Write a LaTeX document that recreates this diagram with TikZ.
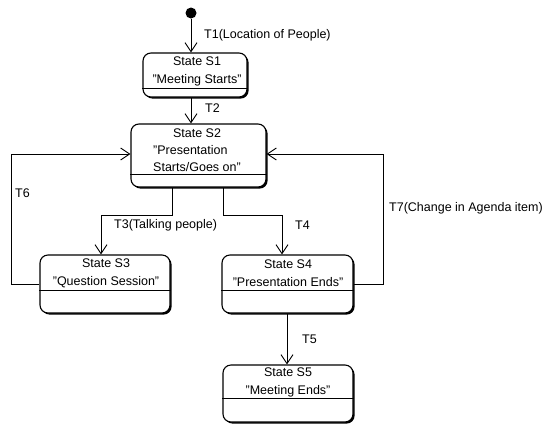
\documentclass[tikz,border=0pt]{standalone}
\usepackage{fontspec}
\setmainfont{Liberation Sans}
\usetikzlibrary{arrows.meta,shadows}
\begin{document}
\begin{tikzpicture}[x=1pt,y=-1pt,
  every node/.style={font=\fontsize{12.5}{18}\selectfont, inner sep=0pt},
  statebox/.style={draw, line width=1.1pt, rounded corners=8pt, fill=white,
    drop shadow={shadow xshift=1.6pt, shadow yshift=-1.6pt, fill=black, opacity=1}},
  txt/.style={align=center},
  lbl/.style={anchor=west},
  arr/.style={line width=0.8pt, -{Straight Barb[length=9pt,width=12pt,line width=0.9pt]}},
  conn/.style={line width=0.8pt}]
\useasboundingbox (0,0) rectangle (548,426);

% initial pseudo state
\node[circle, fill=black, minimum size=11pt] (init) at (191,13) {};

% states
\node[statebox, minimum width=104pt, minimum height=44pt] (s1) at (195,75) {};
\node[statebox, minimum width=135pt, minimum height=63pt] (s2) at (198.5,155.5) {};
\node[statebox, minimum width=130pt, minimum height=58pt] (s3) at (105,284) {};
\node[statebox, minimum width=131pt, minimum height=58pt] (s4) at (287.5,284) {};
\node[statebox, minimum width=130pt, minimum height=57pt] (s5) at (288,393.5) {};

% dividers
\draw[line width=0.8pt] (s1.west |- 0,88) -- (s1.east |- 0,88);
\draw[line width=0.8pt] (s2.west |- 0,174) -- (s2.east |- 0,174);
\draw[line width=0.8pt] (s3.west |- 0,290) -- (s3.east |- 0,290);
\draw[line width=0.8pt] (s4.west |- 0,290) -- (s4.east |- 0,290);
\draw[line width=0.8pt] (s5.west |- 0,398) -- (s5.east |- 0,398);

% state texts
\node[txt] (s1t) at (197,71) {State S1\\"Meeting Starts"};
\node (s2t) at (197,133) {State S2};
\node[align=left, anchor=west, font=\fontsize{12.5}{17.5}\selectfont] (s2d) at (153,158.5) {"Presentation\\ Starts/Goes on"};
\node[txt] (s3t) at (106,273) {State S3\\"Question Session"};
\node[txt] (s4t) at (288,273) {State S4\\"Presentation Ends"};
\node[txt] (s5t) at (288,382) {State S5\\"Meeting Ends"};

% helper coordinates
\coordinate (t3a) at (172,215);
\coordinate (t3b) at (101,215);
\coordinate (t4a) at (223,215);
\coordinate (t4b) at (282,215);
\coordinate (t6a) at (11,284);
\coordinate (t6b) at (11,154);
\coordinate (t7a) at (383,284);
\coordinate (t7b) at (383,154);

% connectors
\draw[arr] (init) -- (init |- s1.north);
\draw[arr] (init |- s1.south) -- (init |- s2.north);
\draw[arr] (t3a |- s2.south) -- (t3a) -- (t3b) -- (t3b |- s3.north);
\draw[arr] (t4a |- s2.south) -- (t4a) -- (t4b) -- (t4b |- s4.north);
\draw[arr] (s4.south -| 287,0) -- (s5.north -| 287,0);
\draw[arr] (s3.west) -- (t6a) -- (t6b) -- (s2.west |- t6b);
\draw[arr] (s4.east) -- (t7a) -- (t7b) -- (s2.east |- t7b);

% labels
\node[lbl] (l1) at (204,35) {T1(Location of People)};
\node[lbl] (l2) at (205,108) {T2};
\node[lbl] (l3) at (114,225) {T3(Talking people)};
\node[lbl] (l4) at (295,225) {T4};
\node[lbl] (l5) at (302,339) {T5};
\node[lbl] (l6) at (15,193) {T6};
\node[lbl] (l7) at (389,208) {T7(Change in Agenda item)};
\end{tikzpicture}
\end{document}
